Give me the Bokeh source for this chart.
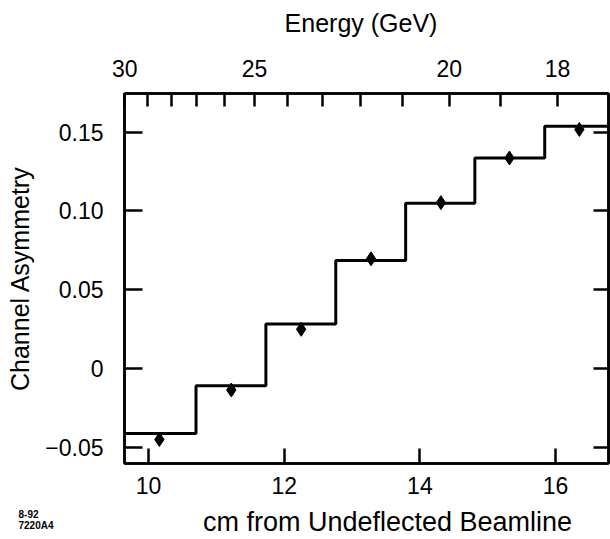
from bokeh.plotting import figure
from bokeh.models import (LinearAxis, FixedTicker, CustomJSTickFormatter, Range1d, Label)
from bokeh.embed import file_html
from bokeh.resources import INLINE

# ---- data ----
bin_edges = [9.646, 10.70, 11.73, 12.76, 13.79, 14.81, 15.84, 16.78]   # cm
bin_levels = [-0.0411, -0.0108, 0.0284, 0.0686, 0.1049, 0.1336, 0.1537]  # asymmetry
point_x = [10.16, 11.22, 12.25, 13.28, 14.31, 15.32, 16.35]              # cm
point_y = [-0.0449, -0.0135, 0.0250, 0.0697, 0.1053, 0.1336, 0.1517]

x_ticks = [10, 12, 14, 16]
y_ticks = [-0.05, 0, 0.05, 0.10, 0.15]
energy_ticks = [30, 29, 28, 27, 26, 25, 24, 23, 22, 21, 20, 19, 18]   # GeV
energy_labels = [30, 25, 20, 18]
# calibration of the top axis: position_cm = E_A + E_B / energy
E_A = 0.084
E_B = 287.0
x_title = "cm from Undeflected Beamline"
top_title = "Energy  (GeV)"
y_title = "Channel Asymmetry"
code_lines = ["8-92", "7220A4"]

FONT = "Liberation Sans"

p = figure(width=610, height=539, output_backend="svg", toolbar_location=None,
           x_range=Range1d(9.646, 16.78), y_range=Range1d(-0.0601, 0.1745),
           x_axis_location=None, y_axis_location=None,
           min_border_left=124, min_border_top=93, min_border_bottom=76,
           min_border_right=2)
p.xgrid.visible = False
p.ygrid.visible = False
p.outline_line_color = "black"
p.outline_line_width = 2.5
p.background_fill_color = "white"
p.border_fill_color = "white"

def style_axis(ax, tick_in, label_size, title_size):
    ax.axis_line_color = "black"
    ax.axis_line_width = 2.5
    ax.major_tick_line_color = "black"
    ax.major_tick_line_width = 2.5
    ax.major_tick_in = tick_in
    ax.major_tick_out = 0
    ax.minor_tick_line_color = None
    ax.major_label_text_font = FONT
    ax.major_label_text_font_size = f"{label_size}px"
    ax.major_label_text_color = "black"
    ax.axis_label_text_font = FONT
    ax.axis_label_text_font_size = f"{title_size}px"
    ax.axis_label_text_font_style = "normal"
    ax.axis_label_text_color = "black"

# bottom axis (its title is drawn as a label, right of centre as in the original)
xb = LinearAxis(ticker=FixedTicker(ticks=x_ticks))
style_axis(xb, 15, 23, 26)
xb.major_label_standoff = 13
p.add_layout(xb, "below")

# left axis
yl = LinearAxis(axis_label=y_title, ticker=FixedTicker(ticks=y_ticks),
                formatter=CustomJSTickFormatter(code="""
                    if (Math.abs(tick) < 1e-9) return '0';
                    const s = Math.abs(tick).toFixed(2);
                    return (tick < 0 ? '\u2212' : '') + s;
                """))
style_axis(yl, 18, 23, 25)
yl.major_label_standoff = 21
yl.axis_label_standoff = 8
p.add_layout(yl, "left")

# right axis (ticks only)
yr = LinearAxis(ticker=FixedTicker(ticks=y_ticks),
                formatter=CustomJSTickFormatter(code="return '';"))
style_axis(yr, 15, 1, 1)
yr.major_label_standoff = 0
p.add_layout(yr, "right")

# top axis: energy (its title is drawn as a label)
xt = LinearAxis(ticker=FixedTicker(ticks=[E_A + E_B / e for e in energy_ticks]),
                formatter=CustomJSTickFormatter(
                    args=dict(a=E_A, b=E_B, labels=energy_labels),
                    code="""
                    const e = Math.round(b / (tick - a));
                    return labels.includes(e) ? String(e) : '';
                """))
style_axis(xt, 13, 23, 24)
xt.major_label_standoff = 17
p.add_layout(xt, "above")

# step histogram
p.step(bin_edges, bin_levels + [bin_levels[-1]], mode="after",
       line_color="black", line_width=3)

# data points
p.scatter(point_x, point_y, marker="diamond", size=14,
          fill_color="black", line_color="black")

# titles and figure code, in canvas pixels (top-left origin)
p.add_layout(Label(x=387, y=506, x_units="canvas", y_units="canvas",
                   text=x_title, text_font=FONT, text_font_size="27px",
                   text_baseline="top", text_align="center",
                   text_color="black"), "below")
p.add_layout(Label(x=364, y=8, x_units="canvas", y_units="canvas",
                   text=top_title, text_font=FONT, text_font_size="25px",
                   text_baseline="top", text_align="center",
                   text_color="black"), "above")
for i, line in enumerate(code_lines):
    p.add_layout(Label(x=18, y=509 + 10 * i, x_units="canvas", y_units="canvas",
                       text=line, text_font=FONT, text_font_size="10px",
                       text_font_style="bold", text_baseline="top",
                       text_align="left", text_color="black"), "above")

open("out.html", "w").write(file_html(p, INLINE))
